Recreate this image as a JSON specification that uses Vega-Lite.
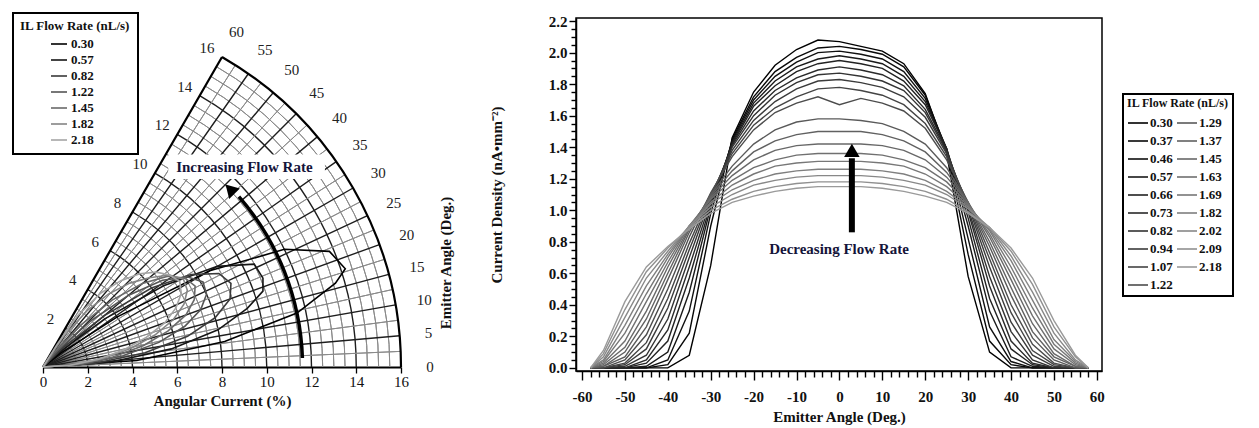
{
"$schema": "https://vega.github.io/schema/vega-lite/v6.json",
"background": "white",
"padding": {"left": 12, "top": 12, "right": 5, "bottom": 5},
"spacing": 175,
"bounds": "flush",
"resolve": {"scale": {"color": "independent", "x": "independent", "y": "independent"}, "legend": {"color": "independent"}},
"config": {
  "view": {"stroke": null},
  "font": "Liberation Serif",
  "axis": {"labelFont": "Liberation Serif", "titleFont": "Liberation Serif", "labelColor": "#111", "titleColor": "#111", "domainColor": "#000", "tickColor": "#000", "grid": false, "labelFontWeight": "bold", "titleFontWeight": "bold", "labelFontSize": 15, "titleFontSize": 15},
  "legend": {"titleFont": "Liberation Serif", "labelFont": "Liberation Serif", "titleColor": "#111", "labelColor": "#111", "strokeWidth": 2}
},
"hconcat": [
{
  "width": 358, "height": 349,
  "view": {"stroke": null},
  "layer": [
    {"data": {"values": [{"r":0.5},{"r":1},{"r":1.5},{"r":2.5},{"r":3},{"r":3.5},{"r":4.5},{"r":5},{"r":5.5},{"r":6.5},{"r":7},{"r":7.5},{"r":8.5},{"r":9},{"r":9.5},{"r":10.5},{"r":11},{"r":11.5},{"r":12.5},{"r":13},{"r":13.5},{"r":14.5},{"r":15},{"r":15.5}]},
     "mark": {"type": "arc", "filled": false, "stroke": "#8a8a8a", "strokeWidth": 1},
     "encoding": {
       "x": {"datum": 0, "type": "quantitative", "scale": {"domain": [0,16], "nice": false, "zero": false}},
       "y": {"datum": 0, "type": "quantitative", "scale": {"domain": [0,15.6], "nice": false, "zero": false}, "axis": null},
       "theta": {"datum": 0, "type": "quantitative", "scale": {"type": "linear", "domain": [0,60], "range": [1.5708, 0.5236], "zero": false, "nice": false}},
       "theta2": {"datum": 60},
       "radius": {"field": "r", "type": "quantitative", "scale": {"type": "linear", "domain": [0,16], "range": [0,358], "zero": false, "nice": false}},
       "radius2": {"field": "r"}
     }},
    {"data": {"values": [{"r":2},{"r":4},{"r":6},{"r":8},{"r":10},{"r":12},{"r":14}]},
     "mark": {"type": "arc", "filled": false, "stroke": "#1e1e1e", "strokeWidth": 1.4},
     "encoding": {
       "x": {"datum": 0, "type": "quantitative"},
       "y": {"datum": 0, "type": "quantitative", "axis": null},
       "theta": {"datum": 0, "type": "quantitative"},
       "theta2": {"datum": 60},
       "radius": {"field": "r", "type": "quantitative"},
       "radius2": {"field": "r"}
     }},
    {"data": {"values": [{"a":2.5},{"a":7.5},{"a":12.5},{"a":17.5},{"a":22.5},{"a":27.5},{"a":32.5},{"a":37.5},{"a":42.5},{"a":47.5},{"a":52.5},{"a":57.5}]},
     "mark": {"type": "arc", "filled": false, "stroke": "#8a8a8a", "strokeWidth": 1},
     "encoding": {
       "x": {"datum": 0, "type": "quantitative"},
       "y": {"datum": 0, "type": "quantitative", "axis": null},
       "theta": {"field": "a", "type": "quantitative", "stack": null},
       "theta2": {"field": "a"},
       "radius": {"datum": 0, "type": "quantitative"},
       "radius2": {"datum": 16}
     }},
    {"data": {"values": [{"a":5},{"a":10},{"a":15},{"a":20},{"a":25},{"a":30},{"a":35},{"a":40},{"a":45},{"a":50},{"a":55}]},
     "mark": {"type": "arc", "filled": false, "stroke": "#1e1e1e", "strokeWidth": 1.4},
     "encoding": {
       "x": {"datum": 0, "type": "quantitative"},
       "y": {"datum": 0, "type": "quantitative", "axis": null},
       "theta": {"field": "a", "type": "quantitative", "stack": null},
       "theta2": {"field": "a"},
       "radius": {"datum": 0, "type": "quantitative"},
       "radius2": {"datum": 16}
     }},
    {"data": {"values": [{"a":60}]},
     "mark": {"type": "arc", "filled": false, "stroke": "#000", "strokeWidth": 2.2},
     "encoding": {
       "x": {"datum": 0, "type": "quantitative"},
       "y": {"datum": 0, "type": "quantitative", "axis": null},
       "theta": {"field": "a", "type": "quantitative", "stack": null},
       "theta2": {"field": "a"},
       "radius": {"datum": 0, "type": "quantitative"},
       "radius2": {"datum": 16}
     }},
    {"data": {"values": [{"r":16}]},
     "mark": {"type": "arc", "filled": false, "stroke": "#000", "strokeWidth": 2.2},
     "encoding": {
       "x": {"datum": 0, "type": "quantitative"},
       "y": {"datum": 0, "type": "quantitative", "axis": null},
       "theta": {"datum": 0, "type": "quantitative"},
       "theta2": {"datum": 60},
       "radius": {"field": "r", "type": "quantitative"},
       "radius2": {"field": "r"}
     }},
    {"data": {"values": [
      {"rate":"0.30","i":0,"x":0,"y":0},{"rate":"0.30","i":1,"x":4.19,"y":0.29},{"rate":"0.30","i":2,"x":8.12,"y":1.14},{"rate":"0.30","i":3,"x":11.35,"y":2.41},{"rate":"0.30","i":4,"x":13.07,"y":3.75},{"rate":"0.30","i":5,"x":13.51,"y":4.39},{"rate":"0.30","i":6,"x":12.80,"y":5.17},{"rate":"0.30","i":7,"x":10.79,"y":5.26},{"rate":"0.30","i":8,"x":7.45,"y":4.30},{"rate":"0.30","i":9,"x":3.32,"y":2.24},{"rate":"0.30","i":10,"x":0.79,"y":0.62},{"rate":"0.30","i":11,"x":0,"y":0},
      {"rate":"0.57","i":0,"x":0,"y":0},{"rate":"0.57","i":1,"x":2.99,"y":0.21},{"rate":"0.57","i":2,"x":5.74,"y":0.81},{"rate":"0.57","i":3,"x":7.82,"y":1.66},{"rate":"0.57","i":4,"x":9.13,"y":2.62},{"rate":"0.57","i":5,"x":9.83,"y":3.39},{"rate":"0.57","i":6,"x":9.83,"y":3.97},{"rate":"0.57","i":7,"x":9.44,"y":4.60},{"rate":"0.57","i":8,"x":7.79,"y":4.50},{"rate":"0.57","i":9,"x":5.39,"y":3.63},{"rate":"0.57","i":10,"x":2.76,"y":2.15},{"rate":"0.57","i":11,"x":0.74,"y":0.67},{"rate":"0.57","i":12,"x":0,"y":0},
      {"rate":"0.82","i":0,"x":0,"y":0},{"rate":"0.82","i":1,"x":2.29,"y":0.16},{"rate":"0.82","i":2,"x":4.56,"y":0.64},{"rate":"0.82","i":3,"x":6.46,"y":1.37},{"rate":"0.82","i":4,"x":7.69,"y":2.20},{"rate":"0.82","i":5,"x":8.36,"y":3.04},{"rate":"0.82","i":6,"x":8.40,"y":3.74},{"rate":"0.82","i":7,"x":7.86,"y":4.18},{"rate":"0.82","i":8,"x":6.61,"y":4.13},{"rate":"0.82","i":9,"x":4.85,"y":3.53},{"rate":"0.82","i":10,"x":2.76,"y":2.31},{"rate":"0.82","i":11,"x":0.86,"y":0.83},{"rate":"0.82","i":12,"x":0,"y":0},
      {"rate":"1.22","i":0,"x":0,"y":0},{"rate":"1.22","i":1,"x":1.80,"y":0.13},{"rate":"1.22","i":2,"x":3.57,"y":0.50},{"rate":"1.22","i":3,"x":5.18,"y":1.10},{"rate":"1.22","i":4,"x":6.34,"y":1.82},{"rate":"1.22","i":5,"x":7.05,"y":2.57},{"rate":"1.22","i":6,"x":7.31,"y":3.25},{"rate":"1.22","i":7,"x":7.15,"y":3.80},{"rate":"1.22","i":8,"x":6.44,"y":4.03},{"rate":"1.22","i":9,"x":5.34,"y":3.88},{"rate":"1.22","i":10,"x":3.83,"y":3.21},{"rate":"1.22","i":11,"x":2.16,"y":2.08},{"rate":"1.22","i":12,"x":0.67,"y":0.74},{"rate":"1.22","i":13,"x":0,"y":0},
      {"rate":"1.45","i":0,"x":0,"y":0},{"rate":"1.45","i":1,"x":1.50,"y":0.10},{"rate":"1.45","i":2,"x":3.07,"y":0.43},{"rate":"1.45","i":3,"x":4.50,"y":0.96},{"rate":"1.45","i":4,"x":5.58,"y":1.60},{"rate":"1.45","i":5,"x":6.39,"y":2.33},{"rate":"1.45","i":6,"x":6.76,"y":3.01},{"rate":"1.45","i":7,"x":6.80,"y":3.62},{"rate":"1.45","i":8,"x":6.36,"y":3.97},{"rate":"1.45","i":9,"x":5.58,"y":4.06},{"rate":"1.45","i":10,"x":4.44,"y":3.73},{"rate":"1.45","i":11,"x":3.09,"y":2.99},{"rate":"1.45","i":12,"x":1.67,"y":1.86},{"rate":"1.45","i":13,"x":0.49,"y":0.63},{"rate":"1.45","i":14,"x":0,"y":0},
      {"rate":"1.82","i":0,"x":0,"y":0},{"rate":"1.82","i":1,"x":1.30,"y":0.09},{"rate":"1.82","i":2,"x":2.67,"y":0.38},{"rate":"1.82","i":3,"x":3.91,"y":0.83},{"rate":"1.82","i":4,"x":5.00,"y":1.43},{"rate":"1.82","i":5,"x":5.83,"y":2.12},{"rate":"1.82","i":6,"x":6.30,"y":2.81},{"rate":"1.82","i":7,"x":6.45,"y":3.43},{"rate":"1.82","i":8,"x":6.28,"y":3.92},{"rate":"1.82","i":9,"x":5.66,"y":4.11},{"rate":"1.82","i":10,"x":4.75,"y":3.99},{"rate":"1.82","i":11,"x":3.88,"y":3.75},{"rate":"1.82","i":12,"x":2.94,"y":3.27},{"rate":"1.82","i":13,"x":1.97,"y":2.52},{"rate":"1.82","i":14,"x":0.89,"y":1.33},{"rate":"1.82","i":15,"x":0,"y":0},
      {"rate":"2.18","i":0,"x":0,"y":0},{"rate":"2.18","i":1,"x":1.20,"y":0.08},{"rate":"2.18","i":2,"x":2.48,"y":0.35},{"rate":"2.18","i":3,"x":3.62,"y":0.77},{"rate":"2.18","i":4,"x":4.61,"y":1.32},{"rate":"2.18","i":5,"x":5.45,"y":1.98},{"rate":"2.18","i":6,"x":5.94,"y":2.64},{"rate":"2.18","i":7,"x":6.18,"y":3.29},{"rate":"2.18","i":8,"x":6.11,"y":3.82},{"rate":"2.18","i":9,"x":5.66,"y":4.11},{"rate":"2.18","i":10,"x":5.06,"y":4.24},{"rate":"2.18","i":11,"x":4.32,"y":4.17},{"rate":"2.18","i":12,"x":3.48,"y":3.86},{"rate":"2.18","i":13,"x":2.59,"y":3.31},{"rate":"2.18","i":14,"x":1.57,"y":2.32},{"rate":"2.18","i":15,"x":0.64,"y":1.02},{"rate":"2.18","i":16,"x":0,"y":0}
     ]},
     "mark": {"type": "line", "strokeWidth": 1.6},
     "encoding": {
       "x": {"field": "x", "type": "quantitative", "scale": {"domain": [0,16], "nice": false, "zero": false},
             "axis": {"values": [0,0.5,1,1.5,2,2.5,3,3.5,4,4.5,5,5.5,6,6.5,7,7.5,8,8.5,9,9.5,10,10.5,11,11.5,12,12.5,13,13.5,14,14.5,15,15.5,16],
                      "labelExpr": "datum.value % 2 === 0 ? datum.label : ''", "labelOverlap": false, "labelFlush": false,
                      "tickSize": 6, "tickWidth": 1.3, "domainWidth": 2, "labelFontWeight": "normal", "labelFontSize": 15, "labelPadding": 1,
                      "title": "Angular Current (%)", "titlePadding": 4}},
       "y": {"field": "y", "type": "quantitative", "scale": {"domain": [0,15.6], "nice": false, "zero": false}, "axis": null},
       "order": {"field": "i", "type": "quantitative"},
       "color": {"field": "rate", "type": "nominal",
                 "scale": {"domain": ["0.30","0.57","0.82","1.22","1.45","1.82","2.18"], "range": ["#000000","#151515","#3a3a3a","#555555","#6a6a6a","#858585","#a5a5a5"]},
                 "legend": {"title": "IL Flow Rate (nL/s)", "orient": "none", "legendX": -30, "legendY": -5, "strokeColor": "#000", "padding": 7,
                            "symbolType": "stroke", "symbolSize": 256, "symbolStrokeWidth": 1.6, "symbolOffset": 30,
                            "titleFontSize": 13, "labelFontSize": 13, "titleFontWeight": "bold", "labelFontWeight": "bold",
                            "rowPadding": 0, "labelOffset": 3, "titlePadding": 2}}
     }},
    {"data": {"values": [{}]},
     "mark": {"type": "rect", "fill": "white"},
     "encoding": {"x": {"datum": 5.6, "type": "quantitative"}, "x2": {"datum": 12.6},
                  "y": {"datum": 8.4, "type": "quantitative", "axis": null}, "y2": {"datum": 9.5}}},
    {"data": {"values": [{}]},
     "mark": {"type": "text", "text": "Increasing Flow Rate", "fontWeight": "bold", "fontSize": 15, "font": "Liberation Serif", "color": "#14143a", "align": "center", "baseline": "middle"},
     "encoding": {"x": {"datum": 9.0, "type": "quantitative"}, "y": {"datum": 8.95, "type": "quantitative", "axis": null}}},
    {"data": {"values": [{"r":11.6}]},
     "mark": {"type": "arc", "filled": false, "stroke": "#000", "strokeWidth": 3.5},
     "encoding": {
       "x": {"datum": 0, "type": "quantitative"},
       "y": {"datum": 0, "type": "quantitative", "axis": null},
       "theta": {"datum": 2, "type": "quantitative"},
       "theta2": {"datum": 41},
       "radius": {"field": "r", "type": "quantitative"},
       "radius2": {"field": "r"}
     }},
    {"data": {"values": [{}]},
     "mark": {"type": "point", "shape": "triangle-up", "filled": true, "color": "#000", "size": 220, "angle": 316, "opacity": 1},
     "encoding": {"x": {"datum": 8.36, "type": "quantitative"}, "y": {"datum": 7.95, "type": "quantitative", "axis": null}}},
    {"data": {"values": [{"r":2},{"r":4},{"r":6},{"r":8},{"r":10},{"r":12},{"r":14},{"r":16}]},
     "mark": {"type": "text", "fontSize": 15, "color": "#222", "dx": -15, "dy": -9, "align": "center", "baseline": "middle"},
     "encoding": {
       "x": {"datum": 0, "type": "quantitative"},
       "y": {"datum": 0, "type": "quantitative", "axis": null},
       "theta": {"datum": 60, "type": "quantitative"},
       "radius": {"field": "r", "type": "quantitative"},
       "text": {"field": "r"}
     }},
    {"data": {"values": [{"a":0},{"a":5},{"a":10},{"a":15},{"a":20},{"a":25},{"a":30},{"a":35},{"a":40},{"a":45},{"a":50},{"a":55},{"a":60}]},
     "mark": {"type": "text", "fontSize": 15, "color": "#222", "align": "center", "baseline": "middle"},
     "encoding": {
       "x": {"datum": 0, "type": "quantitative"},
       "y": {"datum": 0, "type": "quantitative", "axis": null},
       "theta": {"field": "a", "type": "quantitative", "stack": null},
       "radius": {"datum": 17.3, "type": "quantitative"},
       "text": {"field": "a"}
     }},
    {"data": {"values": [{}]},
     "mark": {"type": "text", "text": "Emitter Angle (Deg.)", "angle": 270, "fontWeight": "bold", "fontSize": 15, "color": "#111", "align": "center", "baseline": "middle"},
     "encoding": {"x": {"datum": 18.0, "type": "quantitative"}, "y": {"datum": 4.65, "type": "quantitative", "axis": null}}}
  ]
},
{
  "width": 526, "height": 353,
  "view": {"stroke": "#000", "strokeWidth": 1.5},
  "resolve": {"axis": {"x": "independent", "y": "independent"}},
  "layer": [
    {"data": {"values": [
{"f":"0.30","a":-58,"j":0},{"f":"0.30","a":-55,"j":0},{"f":"0.30","a":-50,"j":0},{"f":"0.30","a":-45,"j":0},{"f":"0.30","a":-40,"j":0},{"f":"0.30","a":-35,"j":0.08},{"f":"0.30","a":-30,"j":0.65},{"f":"0.30","a":-25,"j":1.46},{"f":"0.30","a":-20,"j":1.75},{"f":"0.30","a":-15,"j":1.92},{"f":"0.30","a":-10,"j":2.02},{"f":"0.30","a":-5,"j":2.08},{"f":"0.30","a":0,"j":2.07},{"f":"0.30","a":5,"j":2.04},{"f":"0.30","a":10,"j":2.01},{"f":"0.30","a":15,"j":1.93},{"f":"0.30","a":20,"j":1.74},{"f":"0.30","a":25,"j":1.36},{"f":"0.30","a":30,"j":0.58},{"f":"0.30","a":35,"j":0.10},{"f":"0.30","a":40,"j":0},{"f":"0.30","a":45,"j":0},{"f":"0.30","a":50,"j":0},{"f":"0.30","a":55,"j":0},{"f":"0.30","a":58,"j":0},
{"f":"0.37","a":-58,"j":0},{"f":"0.37","a":-55,"j":0},{"f":"0.37","a":-50,"j":0},{"f":"0.37","a":-45,"j":0},{"f":"0.37","a":-40,"j":0.02},{"f":"0.37","a":-35,"j":0.22},{"f":"0.37","a":-30,"j":0.90},{"f":"0.37","a":-25,"j":1.45},{"f":"0.37","a":-20,"j":1.72},{"f":"0.37","a":-15,"j":1.88},{"f":"0.37","a":-10,"j":1.97},{"f":"0.37","a":-5,"j":2.03},{"f":"0.37","a":0,"j":2.04},{"f":"0.37","a":5,"j":2.02},{"f":"0.37","a":10,"j":1.99},{"f":"0.37","a":15,"j":1.91},{"f":"0.37","a":20,"j":1.73},{"f":"0.37","a":25,"j":1.38},{"f":"0.37","a":30,"j":0.72},{"f":"0.37","a":35,"j":0.17},{"f":"0.37","a":40,"j":0.02},{"f":"0.37","a":45,"j":0},{"f":"0.37","a":50,"j":0},{"f":"0.37","a":55,"j":0},{"f":"0.37","a":58,"j":0},
{"f":"0.46","a":-58,"j":0},{"f":"0.46","a":-55,"j":0},{"f":"0.46","a":-50,"j":0},{"f":"0.46","a":-45,"j":0},{"f":"0.46","a":-40,"j":0.05},{"f":"0.46","a":-35,"j":0.36},{"f":"0.46","a":-30,"j":0.98},{"f":"0.46","a":-25,"j":1.44},{"f":"0.46","a":-20,"j":1.70},{"f":"0.46","a":-15,"j":1.85},{"f":"0.46","a":-10,"j":1.94},{"f":"0.46","a":-5,"j":2.00},{"f":"0.46","a":0,"j":2.01},{"f":"0.46","a":5,"j":1.99},{"f":"0.46","a":10,"j":1.96},{"f":"0.46","a":15,"j":1.88},{"f":"0.46","a":20,"j":1.71},{"f":"0.46","a":25,"j":1.39},{"f":"0.46","a":30,"j":0.82},{"f":"0.46","a":35,"j":0.26},{"f":"0.46","a":40,"j":0.04},{"f":"0.46","a":45,"j":0},{"f":"0.46","a":50,"j":0},{"f":"0.46","a":55,"j":0},{"f":"0.46","a":58,"j":0},
{"f":"0.57","a":-58,"j":0},{"f":"0.57","a":-55,"j":0},{"f":"0.57","a":-50,"j":0},{"f":"0.57","a":-45,"j":0.01},{"f":"0.57","a":-40,"j":0.10},{"f":"0.57","a":-35,"j":0.48},{"f":"0.57","a":-30,"j":1.02},{"f":"0.57","a":-25,"j":1.43},{"f":"0.57","a":-20,"j":1.68},{"f":"0.57","a":-15,"j":1.82},{"f":"0.57","a":-10,"j":1.91},{"f":"0.57","a":-5,"j":1.96},{"f":"0.57","a":0,"j":1.98},{"f":"0.57","a":5,"j":1.96},{"f":"0.57","a":10,"j":1.93},{"f":"0.57","a":15,"j":1.85},{"f":"0.57","a":20,"j":1.69},{"f":"0.57","a":25,"j":1.39},{"f":"0.57","a":30,"j":0.90},{"f":"0.57","a":35,"j":0.36},{"f":"0.57","a":40,"j":0.07},{"f":"0.57","a":45,"j":0.01},{"f":"0.57","a":50,"j":0},{"f":"0.57","a":55,"j":0},{"f":"0.57","a":58,"j":0},
{"f":"0.66","a":-58,"j":0},{"f":"0.66","a":-55,"j":0},{"f":"0.66","a":-50,"j":0},{"f":"0.66","a":-45,"j":0.03},{"f":"0.66","a":-40,"j":0.17},{"f":"0.66","a":-35,"j":0.57},{"f":"0.66","a":-30,"j":1.04},{"f":"0.66","a":-25,"j":1.42},{"f":"0.66","a":-20,"j":1.66},{"f":"0.66","a":-15,"j":1.79},{"f":"0.66","a":-10,"j":1.88},{"f":"0.66","a":-5,"j":1.93},{"f":"0.66","a":0,"j":1.95},{"f":"0.66","a":5,"j":1.93},{"f":"0.66","a":10,"j":1.90},{"f":"0.66","a":15,"j":1.82},{"f":"0.66","a":20,"j":1.67},{"f":"0.66","a":25,"j":1.39},{"f":"0.66","a":30,"j":0.95},{"f":"0.66","a":35,"j":0.44},{"f":"0.66","a":40,"j":0.12},{"f":"0.66","a":45,"j":0.02},{"f":"0.66","a":50,"j":0},{"f":"0.66","a":55,"j":0},{"f":"0.66","a":58,"j":0},
{"f":"0.73","a":-58,"j":0},{"f":"0.73","a":-55,"j":0},{"f":"0.73","a":-50,"j":0},{"f":"0.73","a":-45,"j":0.05},{"f":"0.73","a":-40,"j":0.24},{"f":"0.73","a":-35,"j":0.64},{"f":"0.73","a":-30,"j":1.06},{"f":"0.73","a":-25,"j":1.41},{"f":"0.73","a":-20,"j":1.63},{"f":"0.73","a":-15,"j":1.76},{"f":"0.73","a":-10,"j":1.84},{"f":"0.73","a":-5,"j":1.89},{"f":"0.73","a":0,"j":1.91},{"f":"0.73","a":5,"j":1.89},{"f":"0.73","a":10,"j":1.86},{"f":"0.73","a":15,"j":1.79},{"f":"0.73","a":20,"j":1.64},{"f":"0.73","a":25,"j":1.38},{"f":"0.73","a":30,"j":0.99},{"f":"0.73","a":35,"j":0.52},{"f":"0.73","a":40,"j":0.17},{"f":"0.73","a":45,"j":0.03},{"f":"0.73","a":50,"j":0},{"f":"0.73","a":55,"j":0},{"f":"0.73","a":58,"j":0},
{"f":"0.82","a":-58,"j":0},{"f":"0.82","a":-55,"j":0},{"f":"0.82","a":-50,"j":0.01},{"f":"0.82","a":-45,"j":0.08},{"f":"0.82","a":-40,"j":0.31},{"f":"0.82","a":-35,"j":0.70},{"f":"0.82","a":-30,"j":1.08},{"f":"0.82","a":-25,"j":1.40},{"f":"0.82","a":-20,"j":1.60},{"f":"0.82","a":-15,"j":1.73},{"f":"0.82","a":-10,"j":1.81},{"f":"0.82","a":-5,"j":1.86},{"f":"0.82","a":0,"j":1.87},{"f":"0.82","a":5,"j":1.85},{"f":"0.82","a":10,"j":1.82},{"f":"0.82","a":15,"j":1.76},{"f":"0.82","a":20,"j":1.62},{"f":"0.82","a":25,"j":1.37},{"f":"0.82","a":30,"j":1.01},{"f":"0.82","a":35,"j":0.58},{"f":"0.82","a":40,"j":0.23},{"f":"0.82","a":45,"j":0.05},{"f":"0.82","a":50,"j":0},{"f":"0.82","a":55,"j":0},{"f":"0.82","a":58,"j":0},
{"f":"0.94","a":-58,"j":0},{"f":"0.94","a":-55,"j":0},{"f":"0.94","a":-50,"j":0.02},{"f":"0.94","a":-45,"j":0.12},{"f":"0.94","a":-40,"j":0.38},{"f":"0.94","a":-35,"j":0.75},{"f":"0.94","a":-30,"j":1.09},{"f":"0.94","a":-25,"j":1.38},{"f":"0.94","a":-20,"j":1.57},{"f":"0.94","a":-15,"j":1.69},{"f":"0.94","a":-10,"j":1.77},{"f":"0.94","a":-5,"j":1.82},{"f":"0.94","a":0,"j":1.83},{"f":"0.94","a":5,"j":1.81},{"f":"0.94","a":10,"j":1.78},{"f":"0.94","a":15,"j":1.72},{"f":"0.94","a":20,"j":1.59},{"f":"0.94","a":25,"j":1.36},{"f":"0.94","a":30,"j":1.03},{"f":"0.94","a":35,"j":0.64},{"f":"0.94","a":40,"j":0.29},{"f":"0.94","a":45,"j":0.08},{"f":"0.94","a":50,"j":0.01},{"f":"0.94","a":55,"j":0},{"f":"0.94","a":58,"j":0},
{"f":"1.07","a":-58,"j":0},{"f":"1.07","a":-55,"j":0},{"f":"1.07","a":-50,"j":0.03},{"f":"1.07","a":-45,"j":0.16},{"f":"1.07","a":-40,"j":0.44},{"f":"1.07","a":-35,"j":0.79},{"f":"1.07","a":-30,"j":1.10},{"f":"1.07","a":-25,"j":1.36},{"f":"1.07","a":-20,"j":1.54},{"f":"1.07","a":-15,"j":1.65},{"f":"1.07","a":-10,"j":1.72},{"f":"1.07","a":-5,"j":1.77},{"f":"1.07","a":0,"j":1.78},{"f":"1.07","a":5,"j":1.76},{"f":"1.07","a":10,"j":1.73},{"f":"1.07","a":15,"j":1.67},{"f":"1.07","a":20,"j":1.55},{"f":"1.07","a":25,"j":1.34},{"f":"1.07","a":30,"j":1.04},{"f":"1.07","a":35,"j":0.69},{"f":"1.07","a":40,"j":0.35},{"f":"1.07","a":45,"j":0.11},{"f":"1.07","a":50,"j":0.02},{"f":"1.07","a":55,"j":0},{"f":"1.07","a":58,"j":0},
{"f":"1.22","a":-58,"j":0},{"f":"1.22","a":-55,"j":0},{"f":"1.22","a":-50,"j":0.05},{"f":"1.22","a":-45,"j":0.21},{"f":"1.22","a":-40,"j":0.50},{"f":"1.22","a":-35,"j":0.83},{"f":"1.22","a":-30,"j":1.11},{"f":"1.22","a":-25,"j":1.34},{"f":"1.22","a":-20,"j":1.51},{"f":"1.22","a":-15,"j":1.62},{"f":"1.22","a":-10,"j":1.68},{"f":"1.22","a":-5,"j":1.72},{"f":"1.22","a":0,"j":1.67},{"f":"1.22","a":5,"j":1.71},{"f":"1.22","a":10,"j":1.68},{"f":"1.22","a":15,"j":1.63},{"f":"1.22","a":20,"j":1.52},{"f":"1.22","a":25,"j":1.32},{"f":"1.22","a":30,"j":1.05},{"f":"1.22","a":35,"j":0.73},{"f":"1.22","a":40,"j":0.40},{"f":"1.22","a":45,"j":0.15},{"f":"1.22","a":50,"j":0.03},{"f":"1.22","a":55,"j":0},{"f":"1.22","a":58,"j":0},
{"f":"1.29","a":-58,"j":0},{"f":"1.29","a":-55,"j":0.01},{"f":"1.29","a":-50,"j":0.07},{"f":"1.29","a":-45,"j":0.26},{"f":"1.29","a":-40,"j":0.56},{"f":"1.29","a":-35,"j":0.86},{"f":"1.29","a":-30,"j":1.10},{"f":"1.29","a":-25,"j":1.28},{"f":"1.29","a":-20,"j":1.42},{"f":"1.29","a":-15,"j":1.51},{"f":"1.29","a":-10,"j":1.56},{"f":"1.29","a":-5,"j":1.58},{"f":"1.29","a":0,"j":1.58},{"f":"1.29","a":5,"j":1.57},{"f":"1.29","a":10,"j":1.55},{"f":"1.29","a":15,"j":1.50},{"f":"1.29","a":20,"j":1.42},{"f":"1.29","a":25,"j":1.27},{"f":"1.29","a":30,"j":1.05},{"f":"1.29","a":35,"j":0.77},{"f":"1.29","a":40,"j":0.46},{"f":"1.29","a":45,"j":0.19},{"f":"1.29","a":50,"j":0.05},{"f":"1.29","a":55,"j":0},{"f":"1.29","a":58,"j":0},
{"f":"1.37","a":-58,"j":0},{"f":"1.37","a":-55,"j":0.01},{"f":"1.37","a":-50,"j":0.10},{"f":"1.37","a":-45,"j":0.31},{"f":"1.37","a":-40,"j":0.60},{"f":"1.37","a":-35,"j":0.88},{"f":"1.37","a":-30,"j":1.09},{"f":"1.37","a":-25,"j":1.25},{"f":"1.37","a":-20,"j":1.37},{"f":"1.37","a":-15,"j":1.44},{"f":"1.37","a":-10,"j":1.48},{"f":"1.37","a":-5,"j":1.50},{"f":"1.37","a":0,"j":1.50},{"f":"1.37","a":5,"j":1.50},{"f":"1.37","a":10,"j":1.48},{"f":"1.37","a":15,"j":1.44},{"f":"1.37","a":20,"j":1.37},{"f":"1.37","a":25,"j":1.24},{"f":"1.37","a":30,"j":1.05},{"f":"1.37","a":35,"j":0.80},{"f":"1.37","a":40,"j":0.51},{"f":"1.37","a":45,"j":0.23},{"f":"1.37","a":50,"j":0.07},{"f":"1.37","a":55,"j":0.01},{"f":"1.37","a":58,"j":0},
{"f":"1.45","a":-58,"j":0},{"f":"1.45","a":-55,"j":0.02},{"f":"1.45","a":-50,"j":0.13},{"f":"1.45","a":-45,"j":0.36},{"f":"1.45","a":-40,"j":0.64},{"f":"1.45","a":-35,"j":0.89},{"f":"1.45","a":-30,"j":1.08},{"f":"1.45","a":-25,"j":1.22},{"f":"1.45","a":-20,"j":1.32},{"f":"1.45","a":-15,"j":1.38},{"f":"1.45","a":-10,"j":1.41},{"f":"1.45","a":-5,"j":1.42},{"f":"1.45","a":0,"j":1.42},{"f":"1.45","a":5,"j":1.42},{"f":"1.45","a":10,"j":1.41},{"f":"1.45","a":15,"j":1.38},{"f":"1.45","a":20,"j":1.32},{"f":"1.45","a":25,"j":1.21},{"f":"1.45","a":30,"j":1.05},{"f":"1.45","a":35,"j":0.83},{"f":"1.45","a":40,"j":0.56},{"f":"1.45","a":45,"j":0.28},{"f":"1.45","a":50,"j":0.09},{"f":"1.45","a":55,"j":0.01},{"f":"1.45","a":58,"j":0},
{"f":"1.63","a":-58,"j":0},{"f":"1.63","a":-55,"j":0.03},{"f":"1.63","a":-50,"j":0.17},{"f":"1.63","a":-45,"j":0.42},{"f":"1.63","a":-40,"j":0.67},{"f":"1.63","a":-35,"j":0.90},{"f":"1.63","a":-30,"j":1.07},{"f":"1.63","a":-25,"j":1.19},{"f":"1.63","a":-20,"j":1.27},{"f":"1.63","a":-15,"j":1.32},{"f":"1.63","a":-10,"j":1.35},{"f":"1.63","a":-5,"j":1.36},{"f":"1.63","a":0,"j":1.36},{"f":"1.63","a":5,"j":1.36},{"f":"1.63","a":10,"j":1.35},{"f":"1.63","a":15,"j":1.32},{"f":"1.63","a":20,"j":1.27},{"f":"1.63","a":25,"j":1.18},{"f":"1.63","a":30,"j":1.04},{"f":"1.63","a":35,"j":0.85},{"f":"1.63","a":40,"j":0.60},{"f":"1.63","a":45,"j":0.33},{"f":"1.63","a":50,"j":0.12},{"f":"1.63","a":55,"j":0.02},{"f":"1.63","a":58,"j":0},
{"f":"1.69","a":-58,"j":0},{"f":"1.69","a":-55,"j":0.04},{"f":"1.69","a":-50,"j":0.22},{"f":"1.69","a":-45,"j":0.47},{"f":"1.69","a":-40,"j":0.70},{"f":"1.69","a":-35,"j":0.90},{"f":"1.69","a":-30,"j":1.05},{"f":"1.69","a":-25,"j":1.16},{"f":"1.69","a":-20,"j":1.23},{"f":"1.69","a":-15,"j":1.28},{"f":"1.69","a":-10,"j":1.30},{"f":"1.69","a":-5,"j":1.31},{"f":"1.69","a":0,"j":1.31},{"f":"1.69","a":5,"j":1.31},{"f":"1.69","a":10,"j":1.30},{"f":"1.69","a":15,"j":1.28},{"f":"1.69","a":20,"j":1.23},{"f":"1.69","a":25,"j":1.15},{"f":"1.69","a":30,"j":1.03},{"f":"1.69","a":35,"j":0.87},{"f":"1.69","a":40,"j":0.64},{"f":"1.69","a":45,"j":0.38},{"f":"1.69","a":50,"j":0.15},{"f":"1.69","a":55,"j":0.03},{"f":"1.69","a":58,"j":0},
{"f":"1.82","a":-58,"j":0},{"f":"1.82","a":-55,"j":0.05},{"f":"1.82","a":-50,"j":0.27},{"f":"1.82","a":-45,"j":0.52},{"f":"1.82","a":-40,"j":0.72},{"f":"1.82","a":-35,"j":0.90},{"f":"1.82","a":-30,"j":1.04},{"f":"1.82","a":-25,"j":1.13},{"f":"1.82","a":-20,"j":1.19},{"f":"1.82","a":-15,"j":1.23},{"f":"1.82","a":-10,"j":1.25},{"f":"1.82","a":-5,"j":1.26},{"f":"1.82","a":0,"j":1.26},{"f":"1.82","a":5,"j":1.26},{"f":"1.82","a":10,"j":1.25},{"f":"1.82","a":15,"j":1.23},{"f":"1.82","a":20,"j":1.19},{"f":"1.82","a":25,"j":1.12},{"f":"1.82","a":30,"j":1.02},{"f":"1.82","a":35,"j":0.88},{"f":"1.82","a":40,"j":0.68},{"f":"1.82","a":45,"j":0.43},{"f":"1.82","a":50,"j":0.18},{"f":"1.82","a":55,"j":0.04},{"f":"1.82","a":58,"j":0},
{"f":"2.02","a":-58,"j":0},{"f":"2.02","a":-55,"j":0.07},{"f":"2.02","a":-50,"j":0.32},{"f":"2.02","a":-45,"j":0.57},{"f":"2.02","a":-40,"j":0.74},{"f":"2.02","a":-35,"j":0.90},{"f":"2.02","a":-30,"j":1.02},{"f":"2.02","a":-25,"j":1.10},{"f":"2.02","a":-20,"j":1.16},{"f":"2.02","a":-15,"j":1.19},{"f":"2.02","a":-10,"j":1.21},{"f":"2.02","a":-5,"j":1.22},{"f":"2.02","a":0,"j":1.22},{"f":"2.02","a":5,"j":1.22},{"f":"2.02","a":10,"j":1.21},{"f":"2.02","a":15,"j":1.19},{"f":"2.02","a":20,"j":1.16},{"f":"2.02","a":25,"j":1.10},{"f":"2.02","a":30,"j":1.01},{"f":"2.02","a":35,"j":0.89},{"f":"2.02","a":40,"j":0.71},{"f":"2.02","a":45,"j":0.48},{"f":"2.02","a":50,"j":0.22},{"f":"2.02","a":55,"j":0.05},{"f":"2.02","a":58,"j":0},
{"f":"2.09","a":-58,"j":0},{"f":"2.09","a":-55,"j":0.09},{"f":"2.09","a":-50,"j":0.37},{"f":"2.09","a":-45,"j":0.61},{"f":"2.09","a":-40,"j":0.76},{"f":"2.09","a":-35,"j":0.89},{"f":"2.09","a":-30,"j":1.00},{"f":"2.09","a":-25,"j":1.07},{"f":"2.09","a":-20,"j":1.12},{"f":"2.09","a":-15,"j":1.15},{"f":"2.09","a":-10,"j":1.17},{"f":"2.09","a":-5,"j":1.18},{"f":"2.09","a":0,"j":1.18},{"f":"2.09","a":5,"j":1.18},{"f":"2.09","a":10,"j":1.17},{"f":"2.09","a":15,"j":1.15},{"f":"2.09","a":20,"j":1.12},{"f":"2.09","a":25,"j":1.07},{"f":"2.09","a":30,"j":0.99},{"f":"2.09","a":35,"j":0.89},{"f":"2.09","a":40,"j":0.74},{"f":"2.09","a":45,"j":0.53},{"f":"2.09","a":50,"j":0.26},{"f":"2.09","a":55,"j":0.07},{"f":"2.09","a":58,"j":0},
{"f":"2.18","a":-58,"j":0},{"f":"2.18","a":-55,"j":0.11},{"f":"2.18","a":-50,"j":0.42},{"f":"2.18","a":-45,"j":0.64},{"f":"2.18","a":-40,"j":0.77},{"f":"2.18","a":-35,"j":0.88},{"f":"2.18","a":-30,"j":0.98},{"f":"2.18","a":-25,"j":1.05},{"f":"2.18","a":-20,"j":1.09},{"f":"2.18","a":-15,"j":1.12},{"f":"2.18","a":-10,"j":1.14},{"f":"2.18","a":-5,"j":1.15},{"f":"2.18","a":0,"j":1.15},{"f":"2.18","a":5,"j":1.15},{"f":"2.18","a":10,"j":1.14},{"f":"2.18","a":15,"j":1.12},{"f":"2.18","a":20,"j":1.09},{"f":"2.18","a":25,"j":1.05},{"f":"2.18","a":30,"j":0.98},{"f":"2.18","a":35,"j":0.89},{"f":"2.18","a":40,"j":0.76},{"f":"2.18","a":45,"j":0.57},{"f":"2.18","a":50,"j":0.30},{"f":"2.18","a":55,"j":0.08},{"f":"2.18","a":58,"j":0}
     ]},
     "mark": {"type": "line", "strokeWidth": 1.4},
     "encoding": {
       "x": {"field": "a", "type": "quantitative", "scale": {"domain": [-61.4, 61.2], "nice": false, "zero": false},
             "axis": {"values": [-60,-58,-56,-54,-52,-50,-48,-46,-44,-42,-40,-38,-36,-34,-32,-30,-28,-26,-24,-22,-20,-18,-16,-14,-12,-10,-8,-6,-4,-2,0,2,4,6,8,10,12,14,16,18,20,22,24,26,28,30,32,34,36,38,40,42,44,46,48,50,52,54,56,58,60],
                      "labelExpr": "datum.value % 10 === 0 ? '' + datum.value : ''", "labelOverlap": false, "labelFlush": false,
                      "tickSize": {"condition": {"test": "datum.value % 10 === 0", "value": 9}, "value": 6}, "tickWidth": 1.4,
                      "domainWidth": 1.5, "labelPadding": 9, "title": "Emitter Angle (Deg.)", "titlePadding": 5}},
       "y": {"field": "j", "type": "quantitative", "scale": {"domain": [-0.02, 2.22], "nice": false, "zero": false},
             "axis": {"values": [0,0.05,0.1,0.15,0.2,0.25,0.3,0.35,0.4,0.45,0.5,0.55,0.6,0.65,0.7,0.75,0.8,0.85,0.9,0.95,1,1.05,1.1,1.15,1.2,1.25,1.3,1.35,1.4,1.45,1.5,1.55,1.6,1.65,1.7,1.75,1.8,1.85,1.9,1.95,2,2.05,2.1,2.15,2.2],
                      "labelExpr": "abs(datum.value * 5 - round(datum.value * 5)) < 0.001 ? format(datum.value, '.1f') : ''", "labelOverlap": false, "labelFlush": false,
                      "tickSize": {"condition": {"test": "abs(datum.value * 5 - round(datum.value * 5)) < 0.001", "value": 7}, "value": 5}, "tickWidth": 1.4,
                      "domainWidth": 1.5, "labelPadding": 2, "title": "Current Density (nA•mm⁻²)", "titlePadding": 44}},
       "color": {"field": "f", "type": "nominal",
                 "scale": {"domain": ["0.30","0.37","0.46","0.57","0.66","0.73","0.82","0.94","1.07","1.22","1.29","1.37","1.45","1.63","1.69","1.82","2.02","2.09","2.18"],
                           "range": ["#000000","#080808","#101010","#1a1a1a","#222222","#2a2a2a","#333333","#3b3b3b","#444444","#4c4c4c","#5a5a5a","#616161","#686868","#707070","#777777","#7f7f7f","#888888","#909090","#9a9a9a"]},
                 "legend": {"title": "IL Flow Rate (nL/s)", "orient": "none", "legendX": 547, "legendY": 76, "columns": 2, "columnPadding": 0,
                            "strokeColor": "#000", "padding": 4, "symbolType": "stroke", "symbolSize": 400, "symbolStrokeWidth": 1.6,
                            "titleFontSize": 12, "labelFontSize": 13, "titleFontWeight": "bold", "labelFontWeight": "bold",
                            "rowPadding": 0, "labelOffset": 1, "titlePadding": 2}}
     }},
    {"data": {"values": [{}]},
     "mark": {"type": "rule", "color": "#000", "strokeWidth": 6},
     "encoding": {"x": {"datum": 2.9, "type": "quantitative", "axis": null}, "y": {"datum": 0.86, "type": "quantitative", "axis": null}, "y2": {"datum": 1.33}}},
    {"data": {"values": [{}]},
     "mark": {"type": "point", "shape": "triangle-up", "filled": true, "color": "#000", "size": 240, "opacity": 1},
     "encoding": {"x": {"datum": 2.9, "type": "quantitative", "axis": null}, "y": {"datum": 1.38, "type": "quantitative", "axis": null}}},
    {"data": {"values": [{}]},
     "mark": {"type": "text", "text": "Decreasing Flow Rate", "fontWeight": "bold", "fontSize": 15, "font": "Liberation Serif", "color": "#14143a", "align": "center", "baseline": "middle"},
     "encoding": {"x": {"datum": -0.1, "type": "quantitative", "axis": null}, "y": {"datum": 0.755, "type": "quantitative", "axis": null}}}
  ]
}
]
}
